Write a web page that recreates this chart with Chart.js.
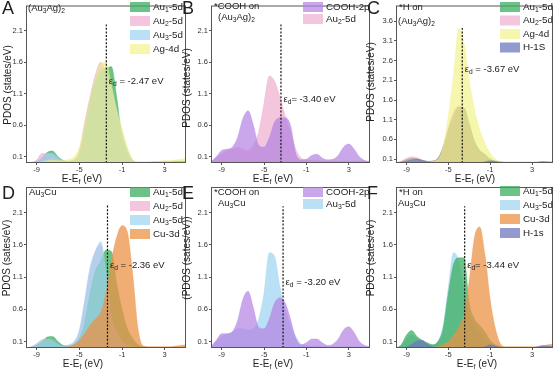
<!DOCTYPE html>
<html>
<head>
<meta charset="utf-8">
<script src="https://cdn.jsdelivr.net/npm/chart.js@4.4.1/dist/chart.umd.min.js"></script>
<style>
  html, body { margin: 0; padding: 0; background: #fff; }
  #wrap { position: relative; width: 554px; height: 371px; overflow: hidden; }
  #wrap canvas { position: absolute; left: 0; top: 0; }
</style>
</head>
<body>
<div id="wrap"></div>
<script>
// energy grid E-Ef (eV), shared by every curve
const energy = [-10,-9.5,-9,-8.5,-8,-7.5,-7,-6.5,-6,-5.5,-5,-4.5,-4,-3.5,-3,-2.5,-2,-1.5,-1,-0.5,0,0.5,1,1.5,2,2.5,3,3.5,4,4.5,5];

// axis ticks
const xTicks = [-9, -5, -1, 3];
const yTicksLow = [0.1, 0.6, 1.1, 1.6, 2.1];
const yTicksHigh = [0.1, 0.6, 1.1, 1.6, 2.1, 2.6, 3.1, 3.6];

// A: (Au3Ag)2
const A_Au1 = [0,0,0.02,0.08,0.17,0.19,0.1,0.04,0.02,0.04,0.12,0.5,0.95,1.3,1.45,1.5,1.53,1.05,0.4,0.15,0.04,0.01,0.01,0.01,0.02,0.02,0.02,0.02,0.03,0.03,0.03];
const A_Au2 = [0,0.01,0.05,0.15,0.15,0.12,0.06,0.03,0.03,0.06,0.2,0.65,1.05,1.4,1.6,1.45,1.2,0.8,0.45,0.2,0.04,0.01,0.01,0.01,0.01,0.01,0.01,0.01,0.01,0.01,0.01];
const A_Au3 = [0,0,0.02,0.08,0.15,0.15,0.08,0.03,0.02,0.05,0.15,0.55,0.95,1.3,1.5,1.45,1.2,0.85,0.5,0.22,0.04,0.01,0.01,0.01,0.01,0.01,0.01,0.01,0.01,0.01,0.01];
const A_Ag  = [0,0,0,0.02,0.04,0.05,0.04,0.04,0.06,0.1,0.25,0.6,1.0,1.35,1.58,1.6,1.25,0.85,0.55,0.25,0.06,0.02,0.02,0.02,0.03,0.03,0.04,0.04,0.05,0.06,0.08];

// B: *COOH on (Au3Ag)2
const B_COOH = [0.02,0.1,0.2,0.22,0.25,0.4,0.7,0.83,0.6,0.28,0.25,0.4,0.65,0.72,0.72,0.6,0.15,0.05,0.06,0.12,0.14,0.08,0.05,0.06,0.12,0.25,0.3,0.22,0.1,0.04,0.02];
const B_Au2  = [0.02,0.08,0.15,0.2,0.22,0.25,0.22,0.2,0.28,0.5,0.95,1.38,1.3,1.05,0.75,0.5,0.22,0.08,0.05,0.04,0.04,0.03,0.03,0.03,0.03,0.03,0.03,0.03,0.03,0.03,0.03];

// C: *H on (Au3Ag)2
const C_Au1 = [0,0.03,0.08,0.12,0.1,0.06,0.04,0.05,0.12,0.4,0.85,1.2,1.42,1.4,1.0,0.55,0.32,0.22,0.1,0.05,0.03,0.02,0.02,0.02,0.02,0.02,0.02,0.02,0.02,0.02,0.02];
const C_Au2 = [0,0.05,0.12,0.16,0.14,0.08,0.04,0.05,0.12,0.42,0.9,1.3,1.45,1.35,0.95,0.5,0.28,0.18,0.08,0.04,0.02,0.01,0.01,0.01,0.01,0.01,0.01,0.01,0.01,0.01,0.01];
const C_Ag  = [0,0.02,0.05,0.08,0.07,0.04,0.03,0.04,0.08,0.4,1.2,2.25,3.42,3.05,2.1,1.35,0.85,0.5,0.25,0.1,0.03,0.02,0.02,0.02,0.02,0.02,0.02,0.02,0.02,0.02,0.02];
const C_H   = [0,0.02,0.05,0.08,0.1,0.07,0.04,0.02,0.01,0.01,0.01,0.01,0.01,0.01,0.01,0.01,0.01,0.03,0.06,0.04,0.02,0.01,0.01,0.01,0.01,0.01,0.01,0.02,0.04,0.03,0.02];

// D: Au3Cu
const D_Au1 = [0,0.01,0.04,0.1,0.17,0.18,0.1,0.04,0.03,0.06,0.15,0.4,0.85,1.2,1.35,1.52,1.5,1.0,0.6,0.3,0.15,0.05,0.02,0.01,0.01,0.01,0.01,0.01,0.01,0.01,0.01];
const D_Au2 = [0,0.02,0.07,0.13,0.14,0.12,0.06,0.03,0.04,0.08,0.25,0.7,1.2,1.5,1.6,1.2,0.5,0.25,0.1,0.05,0.02,0.01,0.01,0.01,0.01,0.01,0.01,0.01,0.01,0.01,0.01];
const D_Au3 = [0,0.02,0.06,0.12,0.14,0.12,0.06,0.03,0.05,0.1,0.28,0.75,1.25,1.5,1.65,1.2,0.5,0.25,0.1,0.05,0.02,0.01,0.01,0.01,0.01,0.01,0.01,0.01,0.01,0.01,0.01];
const D_Cu  = [0,0,0,0,0,0,0,0.01,0.02,0.05,0.12,0.22,0.35,0.45,0.55,0.85,1.35,1.72,1.9,1.8,1.15,0.3,0.03,0.02,0.02,0.02,0.02,0.02,0.03,0.04,0.05];

// E: *COOH on Au3Cu
const E_COOH = [0.02,0.12,0.22,0.22,0.25,0.42,0.75,0.88,0.62,0.32,0.3,0.45,0.7,0.78,0.7,0.45,0.15,0.05,0.08,0.14,0.14,0.08,0.04,0.06,0.14,0.28,0.33,0.24,0.1,0.04,0.02];
const E_Au3  = [0.02,0.1,0.18,0.22,0.25,0.3,0.3,0.28,0.3,0.45,0.85,1.48,1.42,0.95,0.6,0.35,0.18,0.06,0.04,0.03,0.03,0.02,0.02,0.02,0.02,0.02,0.02,0.02,0.02,0.02,0.02];

// F: *H on Au3Cu
const F_Au1 = [0,0.05,0.2,0.27,0.18,0.12,0.08,0.05,0.1,0.3,0.85,1.3,1.4,1.4,0.7,0.45,0.35,0.25,0.12,0.05,0.02,0.01,0.01,0.01,0.01,0.01,0.01,0.01,0.01,0.01,0.01];
const F_Au3 = [0,0.04,0.15,0.2,0.15,0.1,0.06,0.05,0.1,0.35,0.95,1.48,1.35,0.9,0.55,0.35,0.25,0.15,0.08,0.04,0.02,0.01,0.01,0.01,0.01,0.01,0.01,0.01,0.01,0.01,0.01];
const F_Cu  = [0,0,0.01,0.01,0.01,0.01,0.01,0.01,0.02,0.05,0.1,0.2,0.32,0.52,1.05,1.72,1.88,1.45,0.75,0.3,0.06,0.02,0.02,0.02,0.02,0.02,0.02,0.02,0.03,0.05,0.06];
const F_H   = [0,0,0.02,0.06,0.11,0.12,0.06,0.02,0.01,0,0,0,0,0,0,0,0,0.02,0.05,0.03,0.01,0,0,0,0,0,0,0.02,0.04,0.03,0.02];

// d-band centre per panel (A..F), dashed line top and label height
const epsD     = [-2.47, -3.40, -3.67, -2.36, -3.20, -3.44];
const epsTop   = [2.2, 2.2, 3.43, 2.22, 2.2, 2.2];
const epsLabelY = [1.29, 1.01, 2.39, 1.29, 1.02, 1.29];

// colours ('_' in a label = next char is a subscript)
const colors = {
  au1: 'rgba(60,175,95,0.75)',
  au2: 'rgba(235,160,200,0.6)',
  au3: 'rgba(160,212,242,0.72)',
  ag:  'rgba(240,240,120,0.6)',
  cooh: 'rgba(180,130,225,0.7)',
  cu:  'rgba(235,145,70,0.75)',
  h:   'rgba(110,120,190,0.75)'
};

const FONT = '"Liberation Sans", Arial, sans-serif';
const W = 554, H = 371;
const Y_AXIS_W = 20, X_AXIS_H = 12;

// panels: series listed in legend order, 4th field = drawing layer (higher = on top)
const panels = [
  { letter: 'A', box: [26, 2, 186, 163], yMax: 2.5, yTicks: yTicksLow, yTitle: 'PDOS (states/eV)',
    notes: [['(Au_3Ag)_2', 28, 8]], legendX: 130, legendY: 7, legendStep: 14, epsSep: ' = ',
    series: [['Au_1-5d', A_Au1, 'au1', 1], ['Au_2-5d', A_Au2, 'au2', 2], ['Au_3-5d', A_Au3, 'au3', 3], ['Ag-4d', A_Ag, 'ag', 4]],
    letterPos: [2, 9], yTitlePos: [8, 85], xTitlePos: [82, 179] },
  { letter: 'B', box: [211, 2, 370, 163], yMax: 2.5, yTicks: yTicksLow, yTitle: 'PDOS (states/eV)',
    notes: [['*COOH on', 214, 6], ['(Au_3Ag)_2', 218, 17]], legendX: 303, legendY: 7, legendStep: 12, epsSep: '= ',
    series: [['COOH-2p', B_COOH, 'cooh', 2], ['Au_2-5d', B_Au2, 'au2', 1]],
    letterPos: [182, 9], yTitlePos: [187, 88], xTitlePos: [273, 179] },
  { letter: 'C', box: [396, 2, 553, 163], yMax: 4, yTicks: yTicksHigh, yTitle: 'PDOS (states/eV)',
    notes: [['*H on', 399, 7], ['(Au_3Ag)_2', 398, 21]], legendX: 500, legendY: 7, legendStep: 13.5, epsSep: ' = ',
    series: [['Au_1-5d', C_Au1, 'au1', 1], ['Au_2-5d', C_Au2, 'au2', 2], ['Ag-4d', C_Ag, 'ag', 3], ['H-1S', C_H, 'h', 4]],
    letterPos: [367, 9], yTitlePos: [371, 82], xTitlePos: [475, 179] },
  { letter: 'D', box: [26, 187, 186, 348], yMax: 2.5, yTicks: yTicksLow, yTitle: 'PDOS (sates/eV)',
    notes: [['Au_3Cu', 29, 192]], legendX: 130, legendY: 192, legendStep: 14, epsSep: ' = ',
    series: [['Au_1-5d', D_Au1, 'au1', 2], ['Au_2-5d', D_Au2, 'au2', 1], ['Au_3-5d', D_Au3, 'au3', 3], ['Cu-3d', D_Cu, 'cu', 4]],
    letterPos: [2, 194], yTitlePos: [7, 258], xTitlePos: [83, 364] },
  { letter: 'E', box: [211, 187, 370, 348], yMax: 2.5, yTicks: yTicksLow, yTitle: '(PDOS (sates/eV))',
    notes: [['*COOH on', 214, 192], ['Au_3Cu', 218, 203]], legendX: 303, legendY: 192, legendStep: 12, epsSep: ' = ',
    series: [['COOH-2p', E_COOH, 'cooh', 2], ['Au_3-5d', E_Au3, 'au3', 1]],
    letterPos: [182, 194], yTitlePos: [187, 258], xTitlePos: [273, 364] },
  { letter: 'F', box: [396, 187, 553, 348], yMax: 2.5, yTicks: yTicksLow, yTitle: 'PDOS (sates/eV)',
    notes: [['*H on', 399, 192], ['Au_3Cu', 398, 203]], legendX: 500, legendY: 191, legendStep: 14, epsSep: '= ',
    series: [['Au_1-5d', F_Au1, 'au1', 2], ['Au_3-5d', F_Au3, 'au3', 1], ['Cu-3d', F_Cu, 'cu', 3], ['H-1s', F_H, 'h', 4]],
    letterPos: [367, 194], yTitlePos: [371, 258], xTitlePos: [477, 364] }
];

// draws text where '_' marks the next character as a subscript
function richText(ctx, str, x, y, size, align) {
  const parts = [];
  for (let i = 0; i < str.length; i++) {
    if (str[i] === '_') { parts.push([str[i + 1], true]); i++; }
    else if (parts.length && !parts[parts.length - 1][1]) parts[parts.length - 1][0] += str[i];
    else parts.push([str[i], false]);
  }
  const fnt = sub => (sub ? size * 0.7 : size) + 'px ' + FONT;
  let w = 0;
  parts.forEach(p => { ctx.font = fnt(p[1]); w += ctx.measureText(p[0]).width; });
  let cx = align === 'center' ? x - w / 2 : (align === 'right' ? x - w : x);
  ctx.textAlign = 'left';
  ctx.textBaseline = 'middle';
  parts.forEach(p => {
    ctx.font = fnt(p[1]);
    ctx.fillText(p[0], cx, p[1] ? y + size * 0.3 : y);
    cx += ctx.measureText(p[0]).width;
  });
}

const wrap = document.getElementById('wrap');

panels.forEach((p, k) => {
  const canvas = document.createElement('canvas');
  canvas.width = W; canvas.height = H;
  wrap.appendChild(canvas);

  const datasets = p.series.map(s => ({
    label: s[0],
    data: energy.map((e, i) => ({ x: e, y: s[1][i] })),
    backgroundColor: colors[s[2]],
    borderColor: colors[s[2]],
    borderWidth: 0.5,
    fill: 'origin',
    pointRadius: 0,
    cubicInterpolationMode: 'monotone',
    order: 10 - s[3]
  }));
  datasets.push({
    label: 'eps',
    data: [{ x: epsD[k], y: 0 }, { x: epsD[k], y: epsTop[k] }],
    borderColor: '#111',
    borderWidth: 1.2,
    borderDash: [2, 1.6],
    fill: false,
    pointRadius: 0,
    tension: 0,
    order: 0
  });

  const decor = {
    id: 'decor' + p.letter,
    afterDraw(chart) {
      const ctx = chart.ctx;
      const a = chart.chartArea;
      const xs = chart.scales.x, ys = chart.scales.y;
      ctx.save();
      // frame
      ctx.strokeStyle = '#555';
      ctx.lineWidth = 1;
      ctx.strokeRect(a.left + 0.5, a.top + 0.5, a.right - a.left - 1, a.bottom - a.top - 1);
      ctx.fillStyle = '#222';
      // panel letter
      ctx.font = '18px ' + FONT;
      ctx.textAlign = 'left'; ctx.textBaseline = 'middle';
      ctx.fillText(p.letter, p.letterPos[0], p.letterPos[1]);
      // system notes
      p.notes.forEach(n => richText(ctx, n[0], n[1], n[2], 9.5, 'left'));
      // legend
      p.series.forEach((s, i) => {
        const y = p.legendY + i * p.legendStep;
        ctx.fillStyle = colors[s[2]];
        ctx.fillRect(p.legendX, y - 5, 20, 10);
        ctx.fillStyle = '#222';
        richText(ctx, s[0], p.legendX + 23, y, 9.8, 'left');
      });
      // d-band centre label
      richText(ctx, '\u03b5_d' + p.epsSep + epsD[k].toFixed(2) + ' eV',
        xs.getPixelForValue(epsD[k]) + 2.5, ys.getPixelForValue(epsLabelY[k]), 9.5, 'left');
      // axis titles
      richText(ctx, 'E-E_f (eV)', p.xTitlePos[0], p.xTitlePos[1], 10, 'center');
      ctx.translate(p.yTitlePos[0], p.yTitlePos[1]);
      ctx.rotate(-Math.PI / 2);
      richText(ctx, p.yTitle, 0, 0, 10, 'center');
      ctx.restore();
    }
  };

  new Chart(canvas, {
    type: 'line',
    data: { datasets: datasets },
    options: {
      responsive: false,
      animation: false,
      events: [],
      layout: {
        autoPadding: false,
        padding: {
          left: p.box[0] - Y_AXIS_W,
          top: p.box[1],
          right: W - p.box[2],
          bottom: H - p.box[3] - X_AXIS_H
        }
      },
      plugins: { legend: { display: false }, tooltip: { enabled: false }, title: { display: false } },
      scales: {
        x: {
          type: 'linear', min: -10, max: 5,
          afterBuildTicks: s => { s.ticks = xTicks.map(v => ({ value: v })); },
          afterFit: s => { s.height = X_AXIS_H; },
          ticks: { font: { family: FONT, size: 7.5 }, color: '#333', padding: 0, maxRotation: 0, callback: v => String(v) },
          grid: { display: true, drawOnChartArea: false, drawTicks: true, tickLength: 2, tickColor: '#555' },
          border: { display: false }
        },
        y: {
          min: 0, max: p.yMax,
          afterBuildTicks: s => { s.ticks = p.yTicks.map(v => ({ value: v })); },
          afterFit: s => { s.width = Y_AXIS_W; },
          ticks: { font: { family: FONT, size: 7.5 }, color: '#333', padding: 1, callback: v => v.toFixed(1) },
          grid: { display: true, drawOnChartArea: false, drawTicks: true, tickLength: 2, tickColor: '#555' },
          border: { display: false }
        }
      }
    },
    plugins: [decor]
  });
});
</script>
</body>
</html>
